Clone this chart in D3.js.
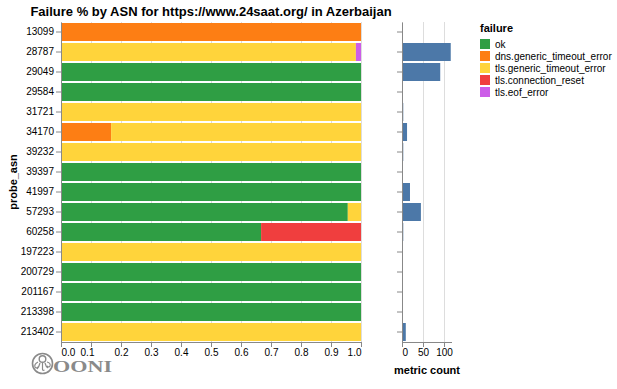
<!DOCTYPE html>
<html><head><meta charset="utf-8">
<script src="https://cdn.jsdelivr.net/npm/d3@7"></script>
<style>body{margin:0;background:#fff}svg{display:block;font-family:"Liberation Sans",Arial,Helvetica,sans-serif}</style>
</head><body><svg id="c" width="617" height="389"></svg>
<script>
const asns = ["13099","28787","29049","29584","31721","34170","39232","39397","41997","57293","60258","197223","200729","201167","213398","213402"];
const failures = ["ok","dns.generic_timeout_error","tls.generic_timeout_error","tls.connection_reset","tls.eof_error"];
const colors = ["#2f9e44","#fd7e14","#ffd43b","#f03e3e","#cc5de8"];
const okShare      = [0,0,1,1,0,0,0,1,1,0.956,0.667,0,1,1,1,0];
const dnsShare     = [1,0,0,0,0,0.167,0,0,0,0,0,0,0,0,0,0];
const tlsTimeout   = [0,0.983,0,0,1,0.833,1,0,0,0.044,0,1,0,0,0,1];
const tlsReset     = [0,0,0,0,0,0,0,0,0,0,0.333,0,0,0,0,0];
const tlsEof       = [0,0.017,0,0,0,0,0,0,0,0,0,0,0,0,0,0];
const metricCount  = [1,116,91,1,3,12,3,1,19,45,3,1,1,1,1,9];
const xTicks = [0,0.1,0.2,0.3,0.4,0.5,0.6,0.7,0.8,0.9,1.0];
const cTicks = [0,50,100];

const series = [okShare,dnsShare,tlsTimeout,tlsReset,tlsEof];
const rows = asns.map((a,i)=>{const r={asn:a};failures.forEach((f,j)=>r[f]=series[j][i]);return r;});
const stack = d3.stack().keys(failures)(rows);

const svg = d3.select("#c");
const plotTop=22, plotBottom=342;
const x = d3.scaleLinear().domain([0,1]).range([61,361]);
const y = d3.scaleBand().domain(asns).range([plotTop,plotBottom]).paddingInner(0.1).paddingOuter(0.05);
const color = d3.scaleOrdinal().domain(failures).range(colors);
const xc = d3.scaleLinear().domain([0,119]).range([402,452]);

// grids
svg.append("g").selectAll("line").data(xTicks).join("line")
  .attr("x1",d=>x(d)+0.5).attr("x2",d=>x(d)+0.5).attr("y1",plotTop).attr("y2",plotBottom)
  .attr("stroke","#ddd");
svg.append("g").selectAll("line").data(cTicks).join("line")
  .attr("x1",d=>xc(d)+0.5).attr("x2",d=>xc(d)+0.5).attr("y1",plotTop).attr("y2",plotBottom)
  .attr("stroke","#ddd");

// stacked bars
svg.append("g").selectAll("g").data(stack).join("g").attr("fill",d=>color(d.key))
  .selectAll("rect").data(d=>d).join("rect")
  .attr("x",d=>x(d[0])).attr("width",d=>Math.max(0,x(d[1])-x(d[0])))
  .attr("y",d=>y(d.data.asn)).attr("height",y.bandwidth());

// count bars
svg.append("g").selectAll("rect").data(asns).join("rect")
  .attr("x",xc(0)).attr("width",(d,i)=>xc(metricCount[i])-xc(0))
  .attr("y",d=>y(d)).attr("height",y.bandwidth()).attr("fill","#4c78a8");

function styleAxis(g){
  g.selectAll(".domain").attr("stroke","#888");
  g.selectAll(".tick line").attr("stroke","#888");
  g.selectAll("text").attr("fill","#000").attr("font-size",10);
}
// y axis left
const ya = svg.append("g").attr("transform","translate(61,0)")
  .call(d3.axisLeft(y).tickSize(5).tickPadding(2).tickSizeOuter(0));
styleAxis(ya);
// y axis right chart (no labels)
const yb = svg.append("g").attr("transform","translate(402,0)")
  .call(d3.axisLeft(y).tickSize(5).tickFormat("").tickSizeOuter(0));
styleAxis(yb);

// x axes
const xa = svg.append("g").attr("transform",`translate(0,${plotBottom})`)
  .call(d3.axisBottom(x).tickValues(xTicks).tickFormat(d3.format(".1f")).tickSize(5).tickSizeOuter(0).tickPadding(2));
styleAxis(xa);
xa.selectAll(".tick text").attr("text-anchor",(d,i)=>i===0?"start":(i===xTicks.length-1?"end":"middle"))
  .attr("dx",(d,i)=>i===0?0:(i===1?-4:0));
xa.select(".domain").attr("d",`M${x(0)},0.5H${x(1)+0.5}`);

const xb = svg.append("g").attr("transform",`translate(0,${plotBottom})`)
  .call(d3.axisBottom(xc).tickValues(cTicks).tickSize(5).tickSizeOuter(0).tickPadding(2));
styleAxis(xb);
xb.selectAll(".tick text").attr("text-anchor",(d,i)=>i===0?"start":"middle");
xb.select(".domain").attr("d",`M${xc(0)},0.5H${xc(119)}`);

// titles
svg.append("text").attr("x",211).attr("y",16).attr("text-anchor","middle")
  .attr("font-size",13).attr("font-weight","bold").text("Failure % by ASN for https://www.24saat.org/ in Azerbaijan");
svg.append("text").attr("transform","translate(17,182) rotate(-90)").attr("text-anchor","middle")
  .attr("font-size",11).attr("font-weight","bold").text("probe_asn");
svg.append("text").attr("x",427).attr("y",374).attr("text-anchor","middle")
  .attr("font-size",11).attr("font-weight","bold").text("metric count");

// legend
const lg = svg.append("g").attr("transform","translate(480,0)");
lg.append("text").attr("x",0).attr("y",32).attr("font-size",11).attr("font-weight","bold").text("failure");
const li = lg.selectAll("g.it").data(failures).join("g").attr("class","it")
  .attr("transform",(d,i)=>`translate(0,${44+i*12})`);
li.append("rect").attr("x",0).attr("y",-5).attr("width",10).attr("height",10).attr("fill",d=>color(d));
li.append("text").attr("x",15).attr("y",3.5).attr("font-size",10).text(d=>d);

// OONI logo
const logo = svg.append("g").attr("fill","none").attr("stroke","#8a8a8a");
logo.append("circle").attr("cx",42.5).attr("cy",363.5).attr("r",10).attr("stroke-width",1.6);
logo.append("circle").attr("cx",42.5).attr("cy",359).attr("r",3.3).attr("stroke-width",1.4);
logo.append("path").attr("d","M38,362 q-4,2 -3,5 q1,2 3,0 M40,363 q-1,4 -3,6 M42.5,363 v6 q0,2 2,1 M45,363 q1,4 3,5 M47,362 q4,1 3,4 q-1,2 -3,0").attr("stroke-width",1.2);
svg.append("text").attr("x",53).attr("y",372).attr("font-family","'Liberation Serif','DejaVu Serif',serif")
  .attr("font-weight","bold").attr("font-size",16).attr("fill","#8a8a8a")
  .attr("textLength",59).attr("lengthAdjust","spacingAndGlyphs").text("OONI");
</script></body></html>
